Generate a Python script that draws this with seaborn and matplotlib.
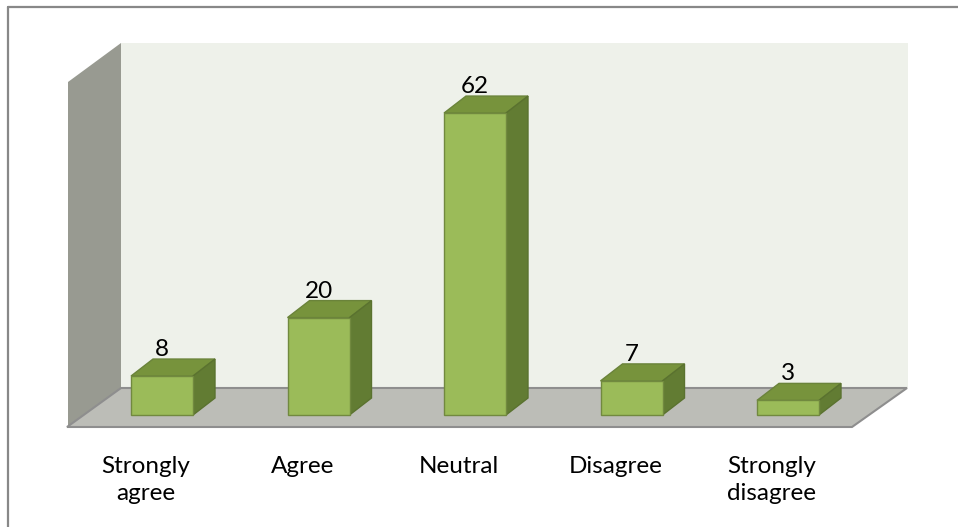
import matplotlib
matplotlib.use("Agg")
import matplotlib.pyplot as plt
import seaborn as sns
import numpy as np
from matplotlib.patches import Polygon
from matplotlib.lines import Line2D

categories = ["Strongly\nagree", "Agree", "Neutral", "Disagree", "Strongly\ndisagree"]
values = [8, 20, 62, 7, 3]

W, H = 958, 527
# pixel frame of the 3-D plot area (x from left, y from top)
X0, STEP = 162, 156.5      # centre of first bar front, category spacing
Y0, UNIT = 415, 4.87       # bar base, pixels per unit
DX, DY = 22, 17            # bar depth
front, top_c, side_c = "#9BBB59", "#77933C", "#627C33"

sns.set_style("white")
plt.rcParams["font.family"] = ["Lato", "DejaVu Sans"]

fig = plt.figure(figsize=(W / 100, H / 100), dpi=100)
ax = fig.add_axes([0, 0, 1, 1])


def fp(x, y):
    return (x / W, 1 - y / H)


# walls and floor
walls = [
    ([(68, 82), (121, 43), (121, 388), (68, 427)], "#989A91", "none"),
    ([(121, 43), (908, 43), (908, 388), (121, 388)], "#EEF1EA", "none"),
    ([(67, 427), (852, 427), (907, 388), (121, 388)], "#BCBDB7", "#8E8E8E"),
]
for pts, fc, ec in walls:
    ax.add_patch(Polygon([fp(*p) for p in pts], closed=True, facecolor=fc,
                         edgecolor=ec, lw=1.5, transform=fig.transFigure,
                         zorder=0, clip_on=False))

sns.barplot(x=categories, y=values, color=front, width=62 / STEP,
            edgecolor="#71893F", linewidth=1, saturation=1, ax=ax, zorder=3)

ax.set_xlim(-X0 / STEP, (W - X0) / STEP)
ax.set_ylim(-(H - Y0) / UNIT, Y0 / UNIT)
dx, dy = DX / STEP, DY / UNIT

for bar, v in zip(ax.containers[0], values):
    x, w, h = bar.get_x(), bar.get_width(), bar.get_height()
    top = [(x, h), (x + w, h), (x + w + dx, h + dy), (x + dx, h + dy)]
    side = [(x + w, 0), (x + w + dx, dy), (x + w + dx, h + dy), (x + w, h)]
    ax.add_patch(Polygon(top, closed=True, facecolor=top_c, edgecolor="#6A833A", lw=1, zorder=2))
    ax.add_patch(Polygon(side, closed=True, facecolor=side_c, edgecolor="#5A722F", lw=1, zorder=2))
    ax.text(x + w / 2, h + dy + 3 / UNIT, str(v), ha="center", va="baseline",
            fontsize=17.5, color="black", zorder=5)

off = 16 / STEP
for i, lab in enumerate(categories):
    ax.text(i - off, (Y0 - 456) / UNIT, lab, ha="center", va="top",
            multialignment="center", fontsize=17.5, linespacing=1.33, color="black")

ax.set_axis_off()

# chart border (only top and left fall inside the image)
fig.add_artist(Line2D([7.5 / W, 7.5 / W], [0, 1 - 6.5 / H], color="#888888", lw=1.6,
                      transform=fig.transFigure))
fig.add_artist(Line2D([7.5 / W, 1], [1 - 6.5 / H, 1 - 6.5 / H], color="#888888", lw=1.6,
                      transform=fig.transFigure))

fig.savefig("out.png", dpi=100, facecolor="white")
